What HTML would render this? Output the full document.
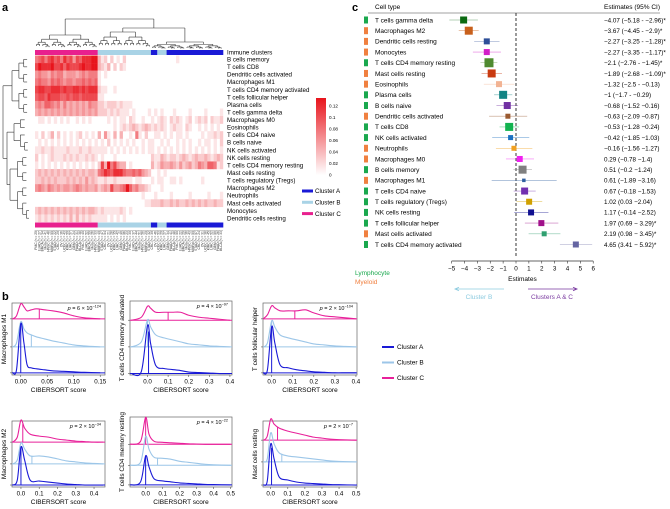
<!DOCTYPE html>
<html><head><meta charset="utf-8"><style>
html,body{margin:0;padding:0;background:#fff;}
svg{display:block;font-family:"Liberation Sans",sans-serif;}
</style></head><body>
<svg id="fig" width="670" height="509" viewBox="0 0 670 509" xmlns="http://www.w3.org/2000/svg">
<text x="2" y="11" font-size="11" font-weight="bold">a</text>
<text x="2" y="300" font-size="11" font-weight="bold">b</text>
<text x="352" y="11" font-size="11" font-weight="bold">c</text>
<g id="pa"></g>
<g id="pb"></g>
<g id="pc"></g>
</svg>
<script>
const NS="http://www.w3.org/2000/svg";
function mk(p,tag,at,txt){const e=document.createElementNS(NS,tag);for(const k in at)e.setAttribute(k,at[k]);if(txt!==undefined)e.textContent=txt;p.appendChild(e);return e;}

/* ---------- Panel A data ---------- */
const rowNames=["B cells memory","T cells CD8","Dendritic cells activated","Macrophages M1","T cells CD4 memory activated","T cells follicular helper","Plasma cells","T cells gamma delta","Macrophages M0","Eosinophils","T cells CD4 naive","B cells naive","NK cells activated","NK cells resting","T cells CD4 memory resting","Mast cells resting","T cells regulatory (Tregs)","Macrophages M2","Neutrophils","Mast cells activated","Monocytes","Dendritic cells resting"];
const clusterSegs=[["C",20],["B",17],["A",2],["B",3],["A",18]];
const heatRows=[
"56757867586747688899"+"31202010200000000"+"00"+"000"+"000100000000000000",
"79888977868777898899"+"32130202100000000"+"00"+"000"+"000000000000000000",
"45443545534443454555"+"10100000000000000"+"00"+"000"+"000000000000000000",
"56554656545545565656"+"10000000000000000"+"00"+"000"+"000000000000000000",
"78877888787788787888"+"21100100000000000"+"00"+"000"+"000000000000000000",
"67768777667677677777"+"11000000000000000"+"00"+"000"+"000000000000000000",
"45466545353434343544"+"22122212111000000"+"00"+"000"+"000000000000000000",
"34343434343434343434"+"22212121110100001"+"01"+"010"+"001000010000100001",
"01101010101001010100"+"00010101102100100"+"10"+"121"+"021210120121202112",
"00000000000000000000"+"00000101212321232"+"12"+"121"+"012110210010101010",
"10201302010101201010"+"30410303001051020"+"01"+"101"+"010110100001011212",
"01010101010101010101"+"01020101010100101"+"10"+"010"+"100101010010110102",
"11211211112111211211"+"11101010101010101"+"10"+"101"+"010101010101010101",
"20101211121212112121"+"01000100000000000"+"21"+"132"+"122123212322321232",
"10101010101010101010"+"27395743301000000"+"31"+"243"+"343242342354366512",
"23232323232323232332"+"56876888655656432"+"00"+"101"+"000000000000000000",
"22323232223232324232"+"11211211111011000"+"10"+"110"+"011010000001000000",
"45435434344345434334"+"23437445696453321"+"00"+"010"+"000000000000000000",
"00000000000000000000"+"00000000000000100"+"01"+"000"+"010000010000010001",
"00000000000000000000"+"00000000000000011"+"22"+"232"+"232322323232322322",
"23232323232323232332"+"12111112101000000"+"00"+"000"+"000000000000000000",
"12121212121313121211"+"11101010100000000"+"00"+"000"+"000000000000000000"];
const colorbarTicks=["0.12","0.1","0.08","0.06","0.04","0.02","0"];
const colLabelBase=["PMC","LUAD","BRCA","Mela","HNSC","MMRd","STAD","CRC","OV","UCEC","KIRC","LIHC","GBM","PAAD","BLCA"];

const pa=document.getElementById('pa');
const HX0=35,HX1=223,HY0=55.5,HY1=222;
const nCol=60,cw=(HX1-HX0)/nCol,rh=(HY1-HY0)/rowNames.length;
const clusterCol={A:"#1a1ad6",B:"#a9d3e6",C:"#e8208e"};
function heatColor(v){const t=v/9;const r=255-Math.round(t*(255-232)),g=255-Math.round(t*(255-20)),b=255-Math.round(t*(255-28));return `rgb(${r},${g},${b})`;}
[50,222.5].forEach((yb,bi)=>{
  let c0=0;clusterSegs.forEach(s=>{
    const r=mk(pa,'rect',{x:HX0+c0*cw,y:yb,width:s[1]*cw+0.3,height:5,fill:clusterCol[s[0]]});
    
    
    c0+=s[1];});
});
heatRows.forEach((row,ri)=>{
  for(let ci=0;ci<nCol;ci++){
    const v=parseInt(row[ci]||"0");
    if(v===0)continue;
    const r=mk(pa,'rect',{x:HX0+ci*cw,y:HY0+ri*rh,width:cw+0.2,height:rh+0.2,fill:heatColor(v)});
    
    
  }
});
const t0=mk(pa,'text',{x:227,y:54.5,'font-size':6.2},"Immune clusters");


rowNames.forEach((n,i)=>{
  const t=mk(pa,'text',{x:227,y:HY0+(i+0.5)*rh+2.2,'font-size':6.2},n);
  
  
});
for(let ci=0;ci<nCol;ci++){
  const x=HX0+(ci+0.7)*cw;
  const lab=colLabelBase[ci%colLabelBase.length]+" (n = "+(20+(ci*7)%40)+")";
  const t=mk(pa,'text',{x:x,y:230,'font-size':3.3,fill:'#333','text-anchor':'end',transform:`rotate(-90 ${x} 230)`},lab);
  
  
}
function dend(lo,hi,lev,leafLev,step,orient,g){
  if(hi-lo<=1){const p=lo+0.5;return p;}
  const mid=Math.floor((lo+hi)/2);
  const nl=lev+(leafLev-lev)*step;
  const a=dend(lo,mid,nl,leafLev,step,orient,g),b=dend(mid,hi,nl,leafLev,step,orient,g);
  const seg=(x1,y1,x2,y2)=>{mk(g,'line',{x1,y1,x2,y2,stroke:'#333','stroke-width':0.6});};
  if(orient==='top'){const X=p=>HX0+p*cw;seg(X(a),lev,X(b),lev);seg(X(a),lev,X(a),nl);seg(X(b),lev,X(b),nl);}
  else{const Y=p=>HY0+p*rh;seg(lev,Y(a),lev,Y(b));seg(lev,Y(a),nl,Y(a));seg(lev,Y(b),nl,Y(b));}
  return (a+b)/2;
}
const gd=mk(pa,'g',{});


function top2(lo,hi,lev,leafLev){return dend(lo,hi,lev,leafLev,0.28,'top',gd);}
const cA=top2(0,20,35,50),cB=top2(20,37,32,50),cR=top2(37,60,42,50);
const X=p=>HX0+p*cw;
const ln=(g,x1,y1,x2,y2)=>mk(g,'line',{x1,y1,x2,y2,stroke:'#333','stroke-width':0.6});
ln(gd,X(cB),28,X(cR),28);ln(gd,X(cB),28,X(cB),32);ln(gd,X(cR),28,X(cR),42);
const cBR=(cB+cR)/2;
ln(gd,X(cA),19,X(cBR),19);ln(gd,X(cA),19,X(cA),35);ln(gd,X(cBR),19,X(cBR),28);
const gl=mk(pa,'g',{});


const r1=dend(0,8,12,35,0.3,'left',gl),r2a=dend(8,13,14,35,0.3,'left',gl),r2b=dend(13,22,10,35,0.3,'left',gl);
const Y=p=>HY0+p*rh;
const r2=(r2a+r2b)/2;
ln(gl,7,Y(r2a),7,Y(r2b));ln(gl,7,Y(r2a),14,Y(r2a));ln(gl,7,Y(r2b),10,Y(r2b));
ln(gl,3,Y(r1),3,Y(r2));ln(gl,3,Y(r1),12,Y(r1));ln(gl,3,Y(r2),7,Y(r2));
const defs=mk(document.getElementById('fig'),'defs',{});
const lg=mk(defs,'linearGradient',{id:'cbg',x1:0,y1:1,x2:0,y2:0});
mk(lg,'stop',{offset:0,'stop-color':'#ffffff'});mk(lg,'stop',{offset:1,'stop-color':'#e8141c'});
const cb=mk(pa,'rect',{x:316,y:98,width:10,height:77,fill:'url(#cbg)'});


colorbarTicks.forEach((s,i)=>{
  const t=mk(pa,'text',{x:329,y:106+i*11.5+1.5,'font-size':4.6},s);
  
  
});
["A","B","C"].forEach((c,i)=>{
  const y=191+i*11.3;
  const l=mk(pa,'rect',{x:302,y:y-1.5,width:11,height:3,fill:clusterCol[c]});
  
  
  const t=mk(pa,'text',{x:315,y:y+2.2,'font-size':6.2},"Cluster "+c);
  
  
});

/* ---------- Panel B data ---------- */
const pnTitles=["Macrophages M1","T cells CD4 memory activated","T cells follicular helper","Macrophages M2","T cells CD4 memory resting","Mast cells resting"];
const pnP=[["6","−124"],["4","−97"],["2","−104"],["2","−34"],["4","−22"],["2","−7"]];
const pnTicks=[["0.00","0.05","0.10","0.15"],["0.0","0.1","0.2","0.3","0.4"],["0.0","0.1","0.2","0.3","0.4"],["0.0","0.1","0.2","0.3","0.4"],["0.0","0.1","0.2","0.3","0.4","0.5"],["0.0","0.1","0.2","0.3","0.4","0.5"]];
const pnDomain=[[-0.0165,0.159],[-0.085,0.41],[-0.041,0.405],[-0.049,0.46],[-0.092,0.508],[-0.045,0.505]];
const pnXs=[
[-0.015,-0.008,0,0.006,0.012,0.02,0.03,0.045,0.06,0.08,0.1,0.12,0.15],
[-0.08,-0.03,0,0.015,0.04,0.08,0.12,0.16,0.2,0.25,0.3,0.35,0.4],
[-0.04,-0.02,0,0.015,0.04,0.08,0.12,0.16,0.2,0.25,0.3,0.35,0.4],
[-0.045,-0.02,0,0.02,0.05,0.1,0.15,0.2,0.25,0.3,0.35,0.4,0.45],
[-0.09,-0.03,0,0.02,0.05,0.1,0.15,0.2,0.25,0.3,0.35,0.4,0.5],
[-0.04,-0.02,0,0.02,0.05,0.1,0.15,0.2,0.25,0.3,0.35,0.4,0.5]];
const densA=[
[0,3,49,30,8,5,4,3,2,1.5,1,0.5,0],
[0,2,48,30,8,5,4,3,1.5,1,0.5,0,0],
[0,3,46,30,8,5,3,2,1,0.5,0,0,0],
[0,5,38,25,5,4,3,2,1,0.5,0,0,0],
[0,3,29,18,6,4,3,2,1.5,1,0.5,0.3,0],
[0,4,41,26,8,5,3,2,1.5,1,0.5,0.3,0]];
const densB=[
[0,4,25,18,14,12,10,8,6,4,2,1,0],
[0,5,27,20,12,9,7,5,3,2,1,0.5,0],
[0,4,26,20,12,9,7,5,3,2,1,0.5,0],
[0,4,21,15,8,8,7,5,3,2,1,0.5,0],
[0,3,29,16,8,7,6,4,3,2,1,0.5,0],
[0,3,29,18,9,6,5,4,3,2,1,0.5,0]];
const densC=[
[0,3,15,12,8,9,10,9,8,6,3,1,0],
[0,3,14,12,8,8,8,8,5,3,2,1,0],
[0,4,13,11,8,8,8,9,6,3,2,1,0],
[0,5,22,14,8,6,5,3,2,1,0.5,0,0],
[0,3,27,10,3,2,1.5,1,0.5,0.3,0,0,0],
[0,4,21,16,12,9,7,5,3,2,1,0.5,0]];
const markA=[0,0.005,0,0,0,0.005],markB=[0.02,0,0,0.06,0.07,0.065],markC=[0.035,0.1,0.11,0.01,0,0.04];

const pb=document.getElementById('pb');
const frames=[[12,303,105,375],[130,301,232,375],[263,303,357,375],[12,421,105,487],[130,417,232,487],[263,421,357,487]];
const baseFrac=[[0.22,0.61,0.97],[0.26,0.62,0.98],[0.22,0.61,0.97],[0.32,0.65,0.97],[0.39,0.69,0.97],[0.29,0.62,0.97]];
const cCols={A:"#1a1ad6",B:"#9cc6e8",C:"#e8209a"};
function smooth(pts){let d=`M${pts[0][0]},${pts[0][1]}`;for(let i=0;i<pts.length-1;i++){const p0=pts[Math.max(0,i-1)],p1=pts[i],p2=pts[i+1],p3=pts[Math.min(pts.length-1,i+2)];const c1=[p1[0]+(p2[0]-p0[0])/6,p1[1]+(p2[1]-p0[1])/6],c2=[p2[0]-(p3[0]-p1[0])/6,p2[1]-(p3[1]-p1[1])/6];d+=`C${c1[0]},${c1[1]} ${c2[0]},${c2[1]} ${p2[0]},${p2[1]}`;}return d;}
function interp(xs,ys,x){for(let i=0;i<xs.length-1;i++){if(x>=xs[i]&&x<=xs[i+1]){const t=(x-xs[i])/(xs[i+1]-xs[i]);return ys[i]+t*(ys[i+1]-ys[i]);}}return 0;}
frames.forEach((f,pi)=>{
  const [x0,y0,x1,y1]=f,dom=pnDomain[pi];
  const sx=v=>x0+(v-dom[0])/(dom[1]-dom[0])*(x1-x0);
  const g=mk(pb,'g',{});
  
  
  const fr=mk(g,'rect',{x:x0,y:y0,width:x1-x0,height:y1-y0,fill:'none',stroke:'#666','stroke-width':0.7});
  
  
  const series=[["C",densC[pi],markC[pi],baseFrac[pi][0]],["B",densB[pi],markB[pi],baseFrac[pi][1]],["A",densA[pi],markA[pi],baseFrac[pi][2]]];
  series.forEach(s=>{
    const base=y0+(y1-y0)*s[3],col=cCols[s[0]];
    const bl=mk(g,'line',{x1:x0,y1:base,x2:x1,y2:base,stroke:col,'stroke-width':1});
    
    
    mk(g,'line',{x1:x0-2,y1:base,x2:x0,y2:base,stroke:'#555','stroke-width':0.6});
    const pts=pnXs[pi].map((x,i)=>[sx(x),base-s[1][i]]);
    const p=mk(g,'path',{d:smooth(pts),fill:'none',stroke:col,'stroke-width':1.1});
    
    
    const mh=interp(pnXs[pi],s[1],s[2]);
    const m=mk(g,'line',{x1:sx(s[2]),y1:base,x2:sx(s[2]),y2:base-mh,stroke:col,'stroke-width':1});
    
    
  });
  const ticks=pnTicks[pi];
  ticks.forEach(t=>{
    const x=sx(parseFloat(t));
    mk(g,'line',{x1:x,y1:y1,x2:x,y2:y1+2,stroke:'#555','stroke-width':0.6});
    const tt=mk(g,'text',{x:x,y:y1+8.5,'font-size':6.2,'text-anchor':'middle'},t);
    
    
  });
  const xt=mk(g,'text',{x:(x0+x1)/2,y:y1+17,'font-size':6.5,'text-anchor':'middle'},"CIBERSORT score");
  
  
  const yx=x0-6,yy=(y0+y1)/2;
  const yt=mk(g,'text',{x:yx,y:yy,'font-size':6.5,'text-anchor':'middle',transform:`rotate(-90 ${yx} ${yy})`},pnTitles[pi]);
  
  
  const pt=mk(g,'text',{x:x1-4,y:y0+7,'font-size':5.5,'text-anchor':'end'});
  
  
  mk(pt,'tspan',{'font-style':'italic'},"p");
  mk(pt,'tspan',{},` = ${pnP[pi][0]} × 10`);
  mk(pt,'tspan',{dy:-2.5,'font-size':3.8},pnP[pi][1]);
});
["A","B","C"].forEach((c,i)=>{
  const y=347+i*15.5;
  const l=mk(pb,'line',{x1:382,y1:y,x2:394,y2:y,stroke:cCols[c],'stroke-width':2});
  
  
  const t=mk(pb,'text',{x:397,y:y+2.2,'font-size':6.5},"Cluster "+c);
  
  
});

/* ---------- Panel C data ---------- */
const cellTypes=["T cells gamma delta","Macrophages M2","Dendritic cells resting","Monocytes","T cells CD4 memory resting","Mast cells resting","Eosinophils","Plasma cells","B cells naive","Dendritic cells activated","T cells CD8","NK cells activated","Neutrophils","Macrophages M0","B cells memory","Macrophages M1","T cells CD4 naive","T cells regulatory (Tregs)","NK cells resting","T cells follicular helper","Mast cells activated","T cells CD4 memory activated"];
const lineage=["L","M","M","M","L","M","M","L","L","M","L","L","M","M","L","M","L","L","L","L","M","L"];
const estimates=[-4.07,-3.67,-2.27,-2.27,-2.1,-1.89,-1.32,-1,-0.68,-0.63,-0.53,-0.42,-0.16,0.29,0.51,0.61,0.67,1.02,1.17,1.97,2.19,4.65];
const ciLow=[-5.18,-4.45,-3.25,-3.35,-2.76,-2.68,-2.5,-1.7,-1.52,-2.09,-1.28,-1.85,-1.56,-0.78,-0.2,-1.89,-0.18,0.03,-0.14,0.69,0.98,3.41];
const ciHigh=[-2.96,-2.9,-1.28,-1.17,-1.45,-1.09,-0.13,-0.29,0.16,0.87,0.24,1.03,1.27,1.4,1.24,3.16,1.53,2.04,2.52,3.29,3.45,5.92];
const estLabels=["−4.07 (−5.18 - −2.96)*","−3.67 (−4.45 - −2.9)*","−2.27 (−3.25 - −1.28)*","−2.27 (−3.35 - −1.17)*","−2.1 (−2.76 - −1.45)*","−1.89 (−2.68 - −1.09)*","−1.32 (−2.5 - −0.13)","−1 (−1.7 - −0.29)","−0.68 (−1.52 −0.16)","−0.63 (−2.09 −0.87)","−0.53 (−1.28 −0.24)","−0.42 (−1.85 −1.03)","−0.16 (−1.56 −1.27)","0.29 (−0.78 −1.4)","0.51 (−0.2 −1.24)","0.61 (−1.89 −3.16)","0.67 (−0.18 −1.53)","1.02 (0.03 −2.04)","1.17 (−0.14 −2.52)","1.97 (0.69 − 3.29)*","2.19 (0.98 − 3.45)*","4.65 (3.41 − 5.92)*"];
const boxSize=[7,8,6,6,9,8,6,8,7,5,8,5,5,6,8,3.5,7,6,6,6,5,6];
const boxColor=["#0b6a12","#c8601c","#2d4e98","#d21ec8","#4f8a2f","#c93a10","#f2b393","#138383","#7131a3","#9a5a30","#12b34f","#1a70c0","#f0a020","#f020f0","#808080","#3060a0","#7130b0","#d0a000","#101090","#a0108a","#30a070","#6565a2"];
const axisTicks=[-5,-4,-3,-2,-1,0,1,2,3,4,5,6];

const pc=document.getElementById('pc');
const sxc=v=>516+v*12.87;
const rowY=i=>20+i*10.69;
const linCol={L:"#1aa84e",M:"#f08040"};
const h1=mk(pc,'text',{x:375,y:9,'font-size':6.5},"Cell type");


const h2=mk(pc,'text',{x:604,y:9,'font-size':6.5},"Estimates (95% CI)");


const hl=mk(pc,'line',{x1:368,y1:13,x2:660,y2:13,stroke:'#444','stroke-width':0.6});


const zl=mk(pc,'line',{x1:sxc(0),y1:13,x2:sxc(0),y2:257,stroke:'#222','stroke-width':0.9,'stroke-dasharray':'3,2'});


cellTypes.forEach((n,i)=>{
  const y=rowY(i);
  const m=mk(pc,'rect',{x:364,y:y-3.5,width:4,height:7,fill:linCol[lineage[i]]});
  
  
  const t=mk(pc,'text',{x:375,y:y+2.3,'font-size':6.5},n);
  
  
  const w=mk(pc,'line',{x1:sxc(ciLow[i]),y1:y,x2:sxc(ciHigh[i]),y2:y,stroke:boxColor[i],'stroke-width':0.6,'stroke-opacity':0.6});
  
  
  const s=boxSize[i];
  const b=mk(pc,'rect',{x:sxc(estimates[i])-s/2,y:y-s/2,width:s,height:s,fill:boxColor[i]});
  
  
  const e=mk(pc,'text',{x:604,y:y+2.3,'font-size':6.3},estLabels[i]);
  
  
});
const ax=mk(pc,'line',{x1:sxc(-5),y1:261,x2:sxc(6),y2:261,stroke:'#333','stroke-width':0.7});


axisTicks.forEach(v=>{
  mk(pc,'line',{x1:sxc(v),y1:261,x2:sxc(v),y2:263.5,stroke:'#333','stroke-width':0.6});
  const t=mk(pc,'text',{x:sxc(v),y:270.5,'font-size':6.3,'text-anchor':'middle'},v<0?"−"+(-v):String(v));
  
  
});
const et=mk(pc,'text',{x:sxc(0.5),y:281,'font-size':6.5,'text-anchor':'middle'},"Estimates");


const a1=mk(pc,'path',{d:'M504,289 L456,289 M459,287.3 L455,289 L459,290.7',stroke:'#8ccbe0','stroke-width':0.8,fill:'none'});


const a2=mk(pc,'path',{d:'M528,289 L577,289 M573,287.3 L577,289 L573,290.7',stroke:'#7a3aa0','stroke-width':0.8,fill:'none'});


const tb=mk(pc,'text',{x:479,y:299,'font-size':6.5,'text-anchor':'middle',fill:'#8ccbe0'},"Cluster B");


const tac=mk(pc,'text',{x:552,y:299,'font-size':6.5,'text-anchor':'middle',fill:'#7a3aa0'},"Clusters A & C");


const ly=mk(pc,'text',{x:355,y:275,'font-size':6.5,fill:'#1aa84e'},"Lymphocyte");


const my=mk(pc,'text',{x:355,y:284,'font-size':6.5,fill:'#f08040'},"Myeloid");


</script>
</body></html>
